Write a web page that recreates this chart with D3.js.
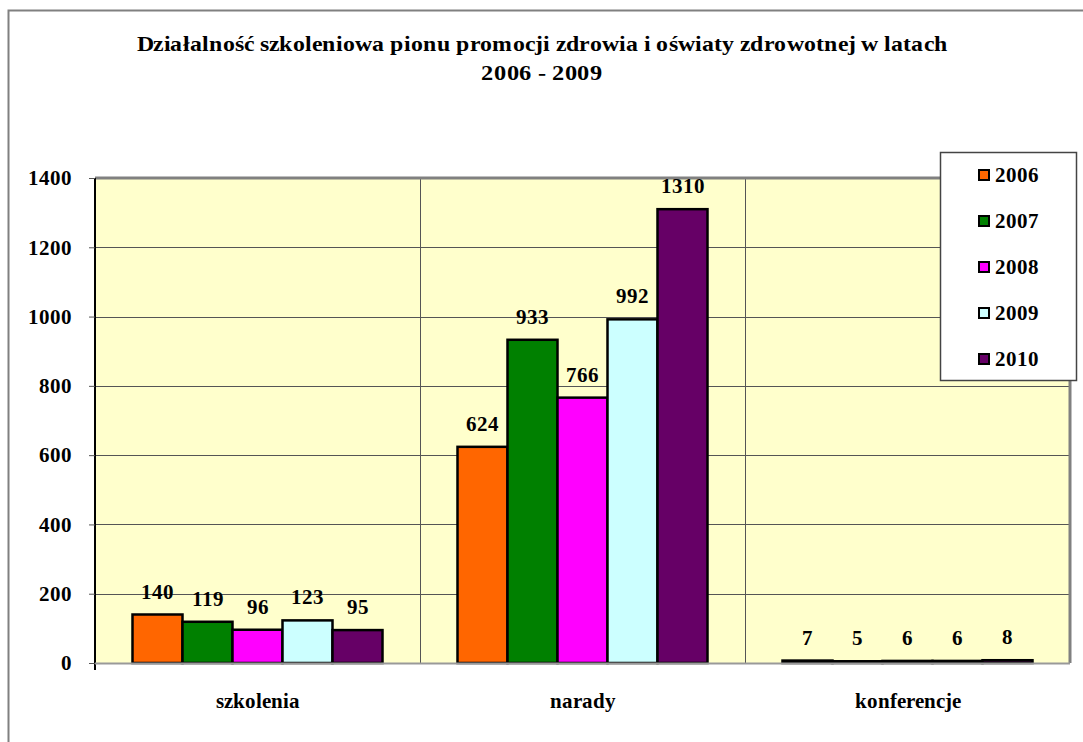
<!DOCTYPE html>
<html>
<head>
<meta charset="utf-8">
<script src="https://cdn.jsdelivr.net/npm/d3@7/dist/d3.min.js"></script>
<style>
  @font-face {
    font-family: "ChartSerif";
    src: local("Liberation Serif Bold"), local("LiberationSerif-Bold"), local("Times New Roman Bold"), local("TimesNewRomanPS-BoldMT");
    font-weight: 700;
  }
  body { margin: 0; }
</style>
</head>
<body>
<svg id="chart" width="1083" height="742"></svg>
<script>
// Chart data
const categories = ["szkolenia", "narady", "konferencje"];
const years = ["2006", "2007", "2008", "2009", "2010"];
const values2006 = [140, 624, 7];
const values2007 = [119, 933, 5];
const values2008 = [96, 766, 6];
const values2009 = [123, 992, 6];
const values2010 = [95, 1310, 8];
const yTicks = [0, 200, 400, 600, 800, 1000, 1200, 1400];
const colors = ["#FF6600", "#008000", "#FF00FF", "#CCFFFF", "#660066"];
const titleLines = ["Działalność szkoleniowa pionu promocji zdrowia i oświaty zdrowotnej w latach", "2006 - 2009"];

const series = [values2006, values2007, values2008, values2009, values2010];
const FONT_STACK = "\"ChartSerif\", \"Times New Roman\", \"Liberation Serif\", serif";

// Apply the shared bold serif text style
function serif(sel, size) {
  return sel.attr("font-family", null)
    .style("font-family", FONT_STACK)
    .style("font-weight", "700")
    .style("font-size", size + "px")
    .attr("fill", "#000");
}

const svg = d3.select("#chart");
const plot = { left: 95, right: 1070, top: 178, bottom: 663 };

// Outer chart frame
svg.append("rect")
  .attr("x", 8.5).attr("y", 10.5)
  .attr("width", 1200).attr("height", 1000)
  .attr("fill", "#fff").attr("stroke", "#808080").attr("stroke-width", 2);

// Title, two centred lines
serif(svg.append("text"), 21)
  .attr("x", 542).attr("y", 51).attr("text-anchor", "middle")
  .attr("textLength", 811).attr("lengthAdjust", "spacingAndGlyphs")
  .text(titleLines[0]);
serif(svg.append("text"), 21)
  .attr("x", 542).attr("y", 80).attr("text-anchor", "middle")
  .attr("textLength", 122).attr("lengthAdjust", "spacingAndGlyphs")
  .text(titleLines[1]);

const x0 = d3.scaleBand().domain(categories).range([plot.left, plot.right]).padding(0);
const x1 = d3.scaleBand().domain(years).range([0, x0.bandwidth()]).paddingOuter(0.75).paddingInner(0);
const y = d3.scaleLinear().domain([0, 1400]).range([plot.bottom, plot.top]);

// Plot background
svg.append("rect")
  .attr("x", plot.left).attr("y", plot.top)
  .attr("width", plot.right - plot.left).attr("height", plot.bottom - plot.top)
  .attr("fill", "#FFFFCC");

// Horizontal gridlines
svg.append("g").selectAll("line").data(yTicks.filter(t => t > 0)).join("line")
  .attr("x1", plot.left).attr("x2", plot.right)
  .attr("y1", d => Math.round(y(d)) + 0.5).attr("y2", d => Math.round(y(d)) + 0.5)
  .attr("stroke", "#555").attr("stroke-width", 1);

// Vertical category separators
svg.append("g").selectAll("line").data(categories.slice(1)).join("line")
  .attr("x1", d => Math.round(x0(d)) + 0.5).attr("x2", d => Math.round(x0(d)) + 0.5)
  .attr("y1", plot.top).attr("y2", plot.bottom)
  .attr("stroke", "#555").attr("stroke-width", 1);

// Plot frame: grey top/right edges
svg.append("path")
  .attr("d", `M${plot.left},${plot.top} H${plot.right} V${plot.bottom}`)
  .attr("fill", "none").attr("stroke", "#808080").attr("stroke-width", 3);

// Y axis
const yAxis = svg.append("g")
  .attr("transform", `translate(${plot.left},0)`)
  .call(d3.axisLeft(y).tickValues(yTicks).tickSize(6).tickPadding(17).tickFormat(d3.format("d")));
yAxis.attr("font-family", null).attr("font-size", null);
yAxis.select(".domain").attr("stroke", "#000").attr("stroke-width", 2).attr("d", `M0,${plot.top}V${plot.bottom + 7}`);
yAxis.selectAll(".tick line").attr("stroke", "#555");
serif(yAxis.selectAll(".tick text"), 21);

// Bars with value labels
const groups = svg.append("g").selectAll("g").data(categories).join("g")
  .attr("transform", d => `translate(${x0(d)},0)`);

groups.each(function (cat, ci) {
  const g = d3.select(this);
  const rows = years.map((yr, si) => ({ yr, si, v: series[si][ci] }));
  g.selectAll("rect").data(rows).join("rect")
    .attr("x", d => x1(d.yr))
    .attr("y", d => y(d.v))
    .attr("width", x1.bandwidth())
    .attr("height", d => y(0) - y(d.v))
    .attr("fill", d => colors[d.si])
    .attr("stroke", "#000").attr("stroke-width", 2.5);
  serif(g.selectAll("text").data(rows).join("text"), 21)
    .attr("x", d => x1(d.yr) + x1.bandwidth() / 2)
    .attr("y", d => y(d.v) - 16)
    .attr("text-anchor", "middle")
    .text(d => d.v);
});

// X axis line
svg.append("line")
  .attr("x1", plot.left).attr("x2", plot.right)
  .attr("y1", plot.bottom + 0.5).attr("y2", plot.bottom + 0.5)
  .attr("stroke", "#999").attr("stroke-width", 2);

// Category labels
serif(svg.append("g").selectAll("text").data(categories).join("text"), 21)
  .attr("x", d => x0(d) + x0.bandwidth() / 2)
  .attr("y", 708)
  .attr("text-anchor", "middle")
  .text(d => d);

// Legend
const legend = svg.append("g");
legend.append("rect")
  .attr("x", 940.5).attr("y", 152.5).attr("width", 136).attr("height", 228)
  .attr("fill", "#fff").attr("stroke", "#444").attr("stroke-width", 1.5);
const items = legend.selectAll("g").data(years).join("g")
  .attr("transform", (d, i) => `translate(979,${175 + i * 46})`);
items.append("rect")
  .attr("x", 0).attr("y", -5).attr("width", 10).attr("height", 10)
  .attr("fill", (d, i) => colors[i]).attr("stroke", "#000").attr("stroke-width", 2);
serif(items.append("text"), 21)
  .attr("x", 16).attr("y", 7)
  .text(d => d);
</script>
</body>
</html>
